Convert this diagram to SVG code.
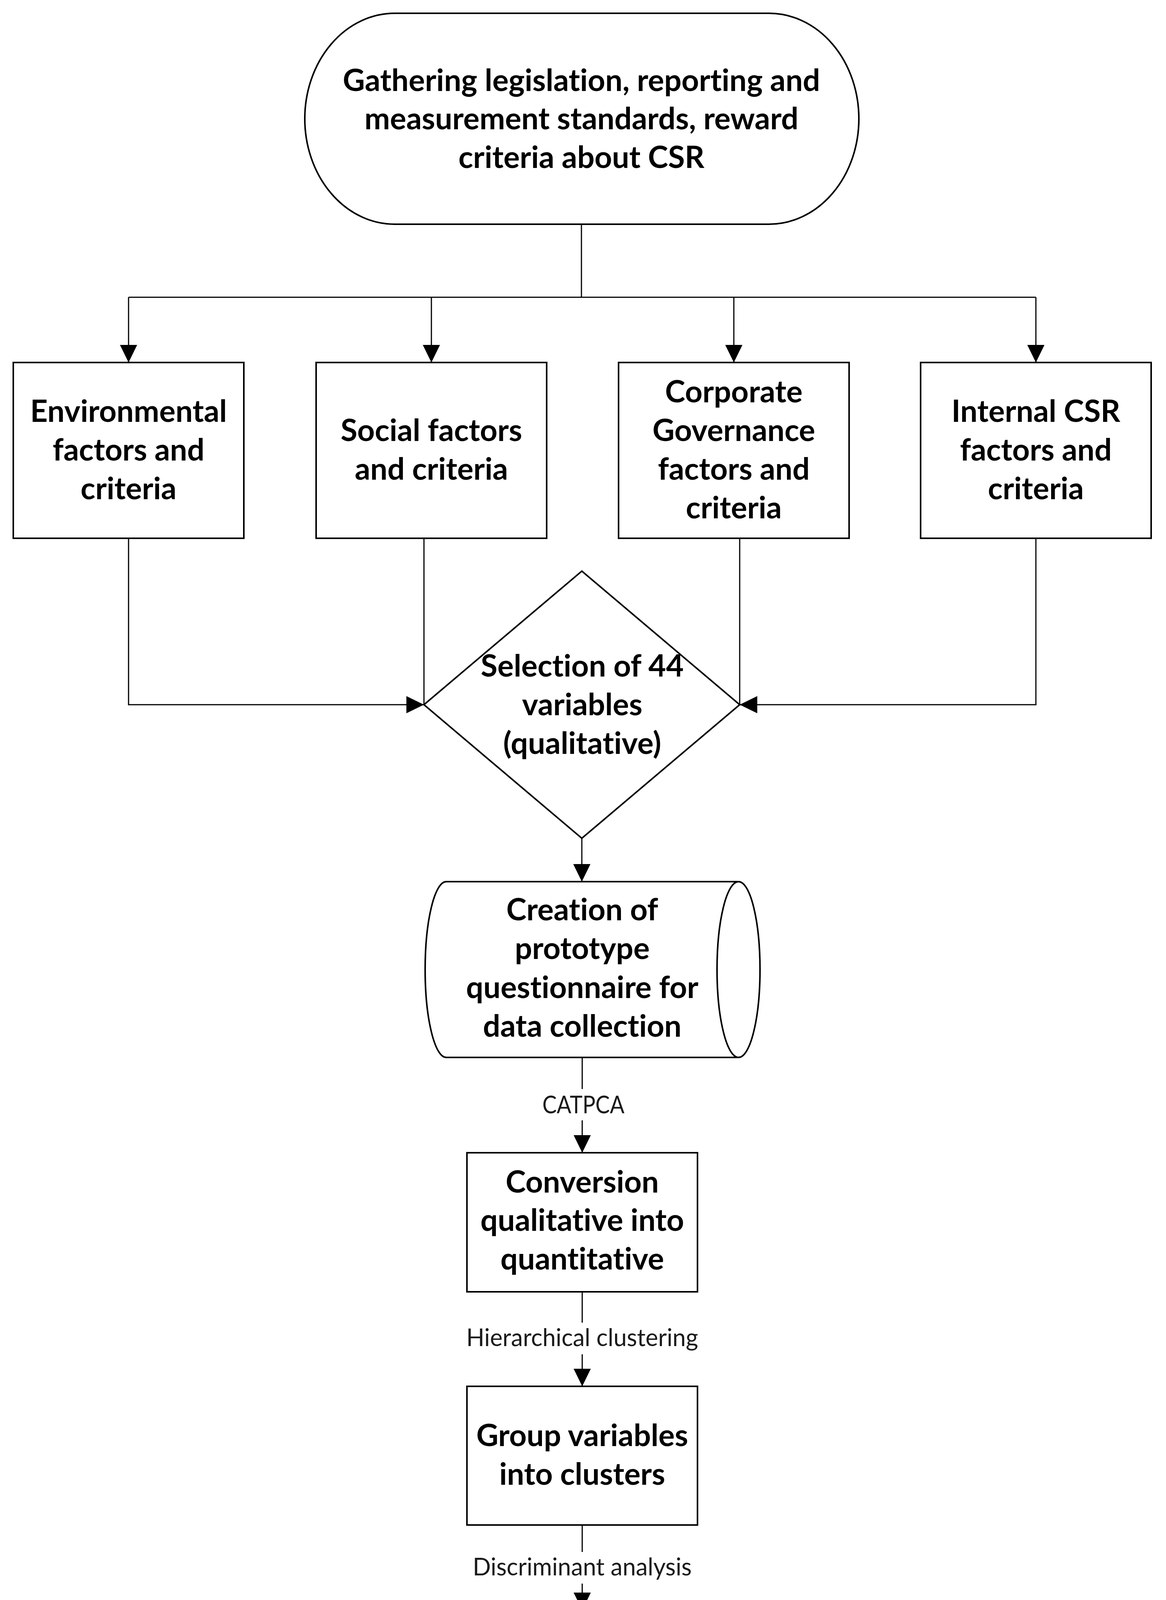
<svg xmlns="http://www.w3.org/2000/svg" width="2984" height="5024" viewBox="0 0 2984 5024">
<style>
.shape{fill:#fff;stroke:#000;stroke-width:4}
.conn{fill:none;stroke:#000;stroke-width:3}
.t{font-family:Lato,"Open Sans","Liberation Sans",sans-serif;font-weight:bold;font-size:78px;fill:#000;text-anchor:middle;font-variant-ligatures:none}
.lbl{font-family:Lato,"Open Sans","Liberation Sans",sans-serif;font-size:61px;fill:#1a1a1a;text-anchor:middle;font-variant-ligatures:none}
</style>
<defs>
<marker id="arr" markerUnits="userSpaceOnUse" markerWidth="45" markerHeight="44" refX="45" refY="22" orient="auto">
<path d="M0,0 L45,22 L0,44 Z" fill="#000"/>
</marker>
</defs>
<rect width="2984" height="5024" fill="#fff"/>
<g id="connectors">
<line class="conn" x1="1488" y1="574" x2="1488" y2="761"/>
<line class="conn" x1="329" y1="761" x2="2651" y2="761"/>
<line class="conn" x1="329" y1="761" x2="329" y2="928" marker-end="url(#arr)"/>
<line class="conn" x1="1104" y1="761" x2="1104" y2="928" marker-end="url(#arr)"/>
<line class="conn" x1="1878" y1="761" x2="1878" y2="928" marker-end="url(#arr)"/>
<line class="conn" x1="2651" y1="761" x2="2651" y2="928" marker-end="url(#arr)"/>
<polyline class="conn" points="329,1378 329,1804 1085,1804" marker-end="url(#arr)"/>
<line class="conn" x1="1085" y1="1378" x2="1085" y2="1804"/>
<line class="conn" x1="1893" y1="1378" x2="1893" y2="1804"/>
<polyline class="conn" points="2651,1378 2651,1804 1893,1804" marker-end="url(#arr)"/>
<line class="conn" x1="1489" y1="2146" x2="1489" y2="2257" marker-end="url(#arr)"/>
<line class="conn" x1="1490" y1="2707" x2="1490" y2="2788"/>
<text class="lbl" x="1493" y="2850" textLength="210" lengthAdjust="spacingAndGlyphs">CATPCA</text>
<line class="conn" x1="1490" y1="2868" x2="1490" y2="2951" marker-end="url(#arr)"/>
<line class="conn" x1="1490" y1="3307" x2="1490" y2="3386"/>
<text class="lbl" x="1490" y="3446">Hierarchical clustering</text>
<line class="conn" x1="1490" y1="3467" x2="1490" y2="3549" marker-end="url(#arr)"/>
<line class="conn" x1="1490" y1="3904" x2="1490" y2="3973"/>
<text class="lbl" x="1490" y="4033">Discriminant analysis</text>
<line class="conn" x1="1490" y1="4054" x2="1490" y2="4122" marker-end="url(#arr)"/>
<line class="conn" x1="1490" y1="4479" x2="1490" y2="4632" marker-end="url(#arr)"/>
</g>
<g id="start">
<rect class="shape" x="780" y="34" width="1418" height="540" rx="230" ry="270"/>
<text class="t" x="1488" y="233">Gathering legislation, reporting and</text>
<text class="t" x="1488" y="331">measurement standards, reward</text>
<text class="t" x="1488" y="430">criteria about CSR</text>
</g>
<g id="environmental">
<rect class="shape" x="34" y="928" width="590" height="450"/>
<text class="t" x="329" y="1080">Environmental</text>
<text class="t" x="329" y="1179">factors and</text>
<text class="t" x="329" y="1278">criteria</text>
</g>
<g id="social">
<rect class="shape" x="809" y="928" width="590" height="450"/>
<text class="t" x="1104" y="1129">Social factors</text>
<text class="t" x="1104" y="1228">and criteria</text>
</g>
<g id="governance">
<rect class="shape" x="1583" y="928" width="590" height="450"/>
<text class="t" x="1878" y="1030">Corporate</text>
<text class="t" x="1878" y="1129">Governance</text>
<text class="t" x="1878" y="1228">factors and</text>
<text class="t" x="1878" y="1327">criteria</text>
</g>
<g id="internal">
<rect class="shape" x="2356" y="928" width="590" height="450"/>
<text class="t" x="2651" y="1080">Internal CSR</text>
<text class="t" x="2651" y="1179">factors and</text>
<text class="t" x="2651" y="1278">criteria</text>
</g>
<g id="selection">
<polygon class="shape" points="1489,1462 1893,1804 1489,2146 1085,1804"/>
<text class="t" x="1490" y="1732">Selection of 44</text>
<text class="t" x="1490" y="1831">variables</text>
<text class="t" x="1490" y="1930">(qualitative)</text>
</g>
<g id="questionnaire">
<path class="shape" d="M1142,2257 L1890,2257 A55,225 0 0 1 1890,2707 L1142,2707 A54,225 0 0 1 1142,2257 Z"/>
<path class="shape" fill="none" d="M1890,2257 A55,225 0 0 0 1890,2707"/>
<text class="t" x="1490" y="2356">Creation of</text>
<text class="t" x="1490" y="2455">prototype</text>
<text class="t" x="1490" y="2555">questionnaire for</text>
<text class="t" x="1490" y="2654">data collection</text>
</g>
<g id="conversion">
<rect class="shape" x="1195" y="2951" width="590" height="356"/>
<text class="t" x="1490" y="3053">Conversion</text>
<text class="t" x="1490" y="3151">qualitative into</text>
<text class="t" x="1490" y="3250">quantitative</text>
</g>
<g id="group">
<rect class="shape" x="1195" y="3549" width="590" height="355"/>
<text class="t" x="1490" y="3702">Group variables</text>
<text class="t" x="1490" y="3801">into clusters</text>
</g>
<g id="equation">
<rect class="shape" x="1195" y="4122" width="590" height="357"/>
<text class="t" x="1490" y="4277">Equation</text>
<text class="t" x="1490" y="4376">generation</text>
</g>
<g id="end">
<rect class="shape" x="760" y="4632" width="1457" height="355" rx="173" ry="177"/>
<text class="t" x="1489" y="4838">Calculate Total CSR Z-Score / company</text>
</g>
</svg>
